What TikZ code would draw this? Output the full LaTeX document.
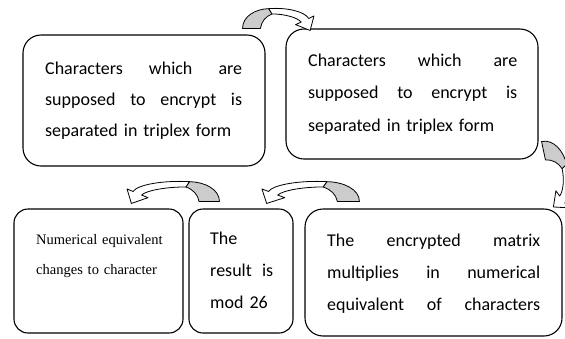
\documentclass[tikz,border=0pt]{standalone}
\usepackage{fontspec}
\setmainfont{Carlito}
\newfontfamily\timesfont{Liberation Serif}
\usetikzlibrary{calc}
% a line whose words are spread over the given width
\newcommand\spreadline[2]{\leavevmode\hbox to #1{\spaceskip=0.3em plus 1fill\relax #2}}

\begin{document}
\begin{tikzpicture}[x=1pt, y=-1pt,
  box/.style={draw, line width=1.1pt, rounded corners=18pt, inner sep=0pt},
  smallbox/.style={box, rounded corners=14pt},
  txt/.style={inner sep=0pt, anchor=base west, align=left},
  ribbonback/.style={fill=gray!40, draw=black, line width=0.8pt, line join=round},
  ribbonfront/.style={fill=white, draw=black, line width=0.8pt, line join=round},
  % curved "down" ribbon arrow; the argument lengthens the front band
  pics/ribbon/.style={code={
    \draw[ribbonback] (0,0) .. controls (0,12) and (12,19.5) .. (25,19.8)
      -- (28,14.5) .. controls (22,12) and (18,7) .. (17,0) -- cycle;
    \draw[ribbonfront] (25,19.8) .. controls ({40+0.5*#1},21.2) and ({55+#1},17) .. ({59+#1},10)
      -- ({64+#1},12.5) -- ({60.4+#1},-2) -- ({46.5+#1},3.8) -- ({51.9+#1},6.4)
      .. controls ({48+#1},11) and ({38+0.5*#1},14.5) .. (28,14.5) -- cycle;
  }}]
\useasboundingbox (0,0) rectangle (565,338);

% boxes
\node[box, minimum width=242pt, minimum height=131pt] (b1) at (144,100.5) {};
\node[box, minimum width=252pt, minimum height=130pt] (b2) at (412,94) {};
\node[smallbox, minimum width=169pt, minimum height=124pt] (b3) at (98.5,271) {};
\node[smallbox, minimum width=104pt, minimum height=124pt] (b4) at (241,271) {};
\node[box, minimum width=257pt, minimum height=127pt] (b5) at (433.5,272.5) {};

% texts
\node[txt, text width=197pt, font=\fontsize{18}{31.3}\selectfont] (t1) at (45,74)
  {\spreadline{197pt}{Characters which are}\\
   \spreadline{197pt}{supposed to encrypt is}\\
   separated in triplex form};
\node[txt, text width=209pt, font=\fontsize{18}{32.5}\selectfont] (t2) at (308,66)
  {\spreadline{209pt}{Characters which are}\\
   \spreadline{209pt}{supposed to encrypt is}\\
   separated in triplex form};
\node[txt, text width=140pt, font=\timesfont\fontsize{14.5}{30}\selectfont] (t3) at (36,244)
  {Numerical equivalent\\changes to character};
\node[txt, text width=63pt, font=\fontsize{18}{32}\selectfont] (t4) at (210,244)
  {The\\
   \spreadline{63pt}{result is}\\
   mod 26};
\node[txt, text width=213pt, font=\fontsize{18}{32}\selectfont] (t5) at (327,246)
  {\spreadline{213pt}{The encrypted matrix}\\
   \spreadline{213pt}{multiplies in numerical}\\
   \spreadline{213pt}{equivalent of characters}};

% curved arrows between the steps
\begin{scope}[shift={($(b1.north east)+(-23,-6)$)}, yscale=-1, xscale=1.05]
  \pic[transform shape] {ribbon=4};
\end{scope}
\begin{scope}[shift={($(b2.south east)+(3,-18)$)}, rotate=-78, yscale=-1, xscale=1.1]
  \pic[transform shape] {ribbon=0};
\end{scope}
\begin{scope}[shift={($(b5.north west)+(55,-7)$)}, yscale=-1, xscale=-1.3]
  \pic[transform shape] {ribbon=11};
\end{scope}
\begin{scope}[shift={($(b4.north west)+(31,-7)$)}, yscale=-1, xscale=-1.2]
  \pic[transform shape] {ribbon=13};
\end{scope}
\end{tikzpicture}
\end{document}
